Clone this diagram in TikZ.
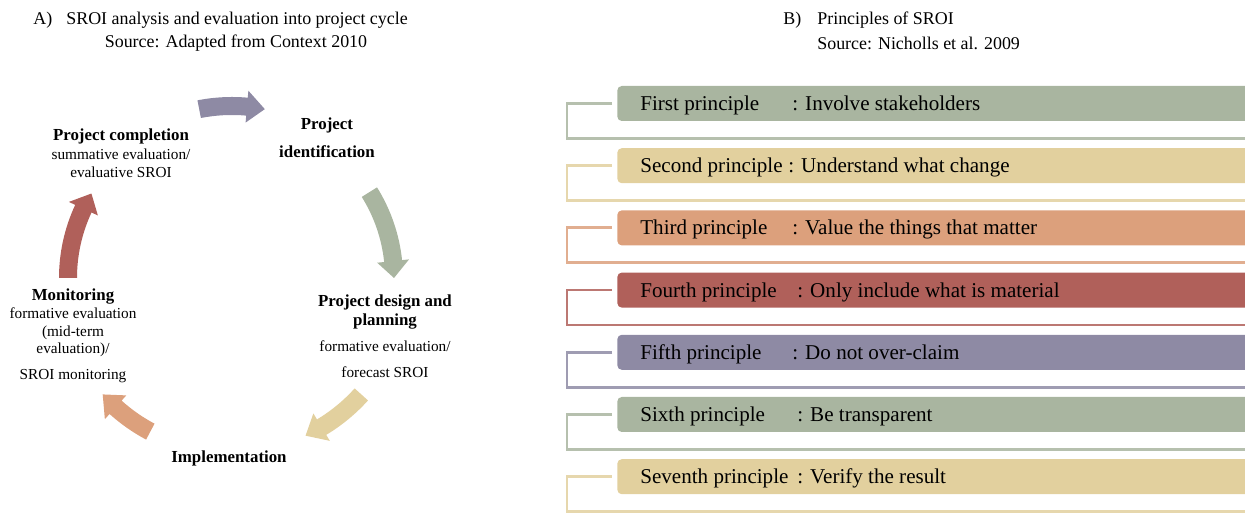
\documentclass[tikz,border=0pt]{standalone}
\usepackage{fontspec}
\setmainfont{Liberation Serif}
\usetikzlibrary{calc}

\definecolor{sgreen}{RGB}{169,181,160}
\definecolor{stan}{RGB}{226,208,158}
\definecolor{ssalmon}{RGB}{220,160,124}
\definecolor{sred}{RGB}{176,96,90}
\definecolor{spurple}{RGB}{142,138,164}

% curved block arrow of the cycle: start angle, end angle, radius, colour
\newcommand\cyclearrow[4]{%
  \pgfmathsetmacro\hb{#2+6}
  \fill[#4]($(c)+(#1:#3+9)$)arc[start angle=#1, end angle=\hb, radius=#3+9]
    --($(c)+(\hb:#3+16)$)--($(c)+(#2:#3)$)--($(c)+(\hb:#3-16)$)
    --($(c)+(\hb:#3-9)$)arc[start angle=\hb, end angle=#1, radius=#3-9]--cycle;}
\newcommand\hd[1]{{\fontsize{9.6}{10}\selectfont\bfseries #1}}

\tikzset{
  lbl/.style={align=center, inner sep=0, font=\fontsize{8.7}{10}\selectfont},
  ttl/.style={anchor=west, inner sep=0, font=\fontsize{10.2}{12}\selectfont},
  bar/.style={anchor=west, minimum width=12.8cm, minimum height=.7cm, inner sep=0, rounded corners=2.5pt},
  ptext/.style={anchor=base west, inner sep=0, font=\fontsize{12}{14}\selectfont},
  brk/.style={line width=1.6pt}
}

\begin{document}
\begin{tikzpicture}[x=.02cm, y=.02cm]
  \useasboundingbox(0, 0)rectangle(1245, 513);

  % A) project cycle
  \node[ttl](ta)at(33, 493){A)};
  \node[ttl](tat)at(66, 493){SROI analysis and evaluation into project cycle};
  \node[ttl, anchor=center](tas)at(236, 470){Source: Adapted from Context 2010};

  \coordinate(c)at(232, 235);
  \cyclearrow{101}{79}{172}{spurple}
  \cyclearrow{32}{0}{162}{sgreen}
  \cyclearrow{-42}{-65}{174}{stan}
  \cyclearrow{-118}{-138}{174}{ssalmon}
  \cyclearrow{180}{149}{164}{sred}

  \node[lbl](ident)at(327, 375){\hd{Project}\\[5.9pt]\hd{identification}};
  \node[lbl](design)at(385, 177){\hd{Project design and}\\[1.3pt]\hd{planning}\\[4.7pt]
    formative evaluation/\\[4.7pt]forecast SROI};
  \node[lbl](impl)at(229, 55){\hd{Implementation}};
  \node[lbl](monit)at(73, 177){\hd{Monitoring}\\formative evaluation\\(mid-term\\evaluation)/\\[4.7pt]SROI monitoring};
  \node[lbl](compl)at(121, 360){\hd{Project completion}\\[.8pt]summative evaluation/\\evaluative SROI};

  % B) principles
  \node[ttl](tb)at(783, 493){B)};
  \node[ttl](tbt)at(817, 493){Principles of SROI};
  \node[ttl](tbs)at(817, 470){Source: Nicholls et al. 2009};

  \foreach \i/\nm/\cx/\txt/\col in {0/First principle/792/Involve stakeholders/sgreen,
      1/Second principle/788/Understand what change/stan,
      2/Third principle/792/Value the things that matter/ssalmon,
      3/Fourth principle/797/Only include what is material/sred,
      4/Fifth principle/792/Do not over-claim/spurple,
      5/Sixth principle/797/Be transparent/sgreen,
      6/Seventh principle/797/Verify the result/stan}{
    \node[bar, fill=\col](p\i)at(617, 409.5-62.2*\i){};
    \node[ptext](n\i)at($(p\i.west)+(23, -7)$){\nm};
    \node[ptext](d\i)at(\cx, 402.5-62.2*\i){: \txt};
    \draw[brk, draw=\col!85!white]($(p\i.west)+(-5, 0)$)--++(-45, 0)|-++(678, -35);
  }
\end{tikzpicture}
\end{document}
